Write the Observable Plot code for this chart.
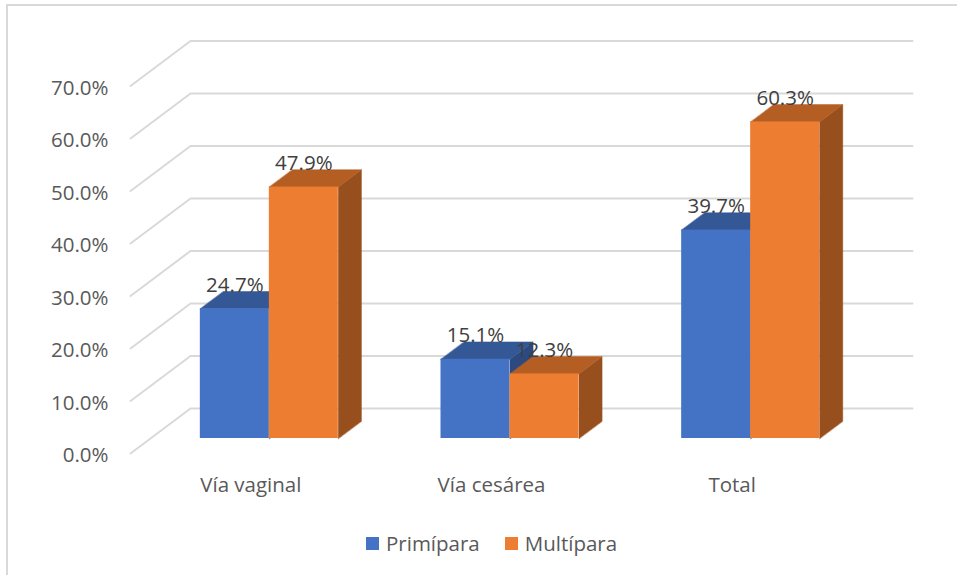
<!DOCTYPE html>
<html>
<head>
<meta charset="utf-8">
<script src="https://cdn.jsdelivr.net/npm/d3@7"></script>
<script src="https://cdn.jsdelivr.net/npm/@observablehq/plot@0.6"></script>
<style>
  body { margin: 0; background: #fff; font-family: "Open Sans", sans-serif; }
  #wrap { position: relative; width: 957px; height: 575px; overflow: hidden; background: #fff; }
  #frame { position: absolute; left: 6px; top: 4px; width: 1200px; height: 800px; border: 2px solid #d9d9d9; box-sizing: border-box; }
  #chart { position: absolute; left: 0; top: 0; }
  #legend { position: absolute; left: 366px; top: 528px; display: flex; align-items: center; font-size: 20.5px; line-height: 30px; color: #595959; }
  .item { display: flex; align-items: center; }
  .sw { width: 13px; height: 13px; display: inline-block; margin-right: 7px; }
</style>
</head>
<body>
<div id="wrap">
  <div id="frame"></div>
  <div id="chart"></div>
  <div id="legend"></div>
</div>
<script>
// ---- data ----
const categories = ["Vía vaginal", "Vía cesárea", "Total"];
const seriesNames = ["Primípara", "Multípara"];
const primipara = [24.7, 15.1, 39.7];
const multipara = [47.9, 12.3, 60.3];
const yTicks = [0, 10, 20, 30, 40, 50, 60, 70];

// ---- styling / layout ----
const frontColors = ["#4472C4", "#ED7D31"];
const topColors = ["#345796", "#B45E24"];
const sideColors = ["#2C4A80", "#984F1E"];

const W = 957, H = 515;
const xLeft = 130, xRight = 912, yBase = 453, pxPerPct = 5.25;
const depthPx = [60, 45];               // back-wall offset in pixels (dx, dy)
const catW = (xRight - depthPx[0] - xLeft) / categories.length;
const kX = depthPx[0] / catW;            // depth offset in x data units
const kY = depthPx[1] / pxPerPct;        // depth offset in y data units
const yMax = yTicks[yTicks.length - 1] + kY;
const yTop = yBase - yMax * pxPerPct;
const df = 1 / 3, db = 0.718;            // bar front / back depth fractions
const bw = 69 / catW;                    // bar width in category units
const shift = -1.5 / catW;               // small horizontal nudge of the bar groups

const values = [primipara, multipara];

// gridlines (left wall diagonal + back wall horizontal)
const grid = [];
for (const v of yTicks) {
  grid.push({v, x: 0, y: v});
  grid.push({v, x: kX, y: v + kY});
  grid.push({v, x: categories.length + kX, y: v + kY});
}

// bar faces
const faces = [];
const fronts = [];
const labels = [];
categories.forEach((c, i) => {
  seriesNames.forEach((s, si) => {
    const v = values[si][i];
    const u1 = i + 0.5 + shift - bw + si * bw, u2 = u1 + bw;
    const id = c + "|" + s;
    const P = (u, val, d) => ({x: u + kX * d, y: val + kY * d});
    // side face
    [P(u2, 0, df), P(u2, v, df), P(u2, v, db), P(u2, 0, db)].forEach(p =>
      faces.push({...p, id: id + "|side", color: sideColors[si]}));
    // top face
    [P(u1, v, df), P(u2, v, df), P(u2, v, db), P(u1, v, db)].forEach(p =>
      faces.push({...p, id: id + "|top", color: topColors[si]}));
    fronts.push({x1: u1 + kX * df, x2: u2 + kX * df, y1: kY * df, y2: v + kY * df, color: frontColors[si]});
    labels.push({x: (u1 + u2) / 2 + kX * df, y: v + kY * db, text: v.toFixed(1) + "%"});
  });
});

const catLabels = categories.map((c, i) => ({x: i + 0.5, y: 0, text: c}));

const chart = Plot.plot({
  width: W,
  height: H,
  marginLeft: xLeft,
  marginRight: W - xRight,
  marginTop: yTop,
  marginBottom: H - yBase,
  style: {fontFamily: "'Open Sans', sans-serif", fontSize: "20.5px", background: "transparent", overflow: "visible"},
  x: {domain: [0, categories.length + kX], range: [xLeft, xRight], axis: null},
  y: {domain: [0, yMax], range: [yBase, yTop]},
  color: {type: "identity"},
  marks: [
    Plot.line(grid, {x: "x", y: "y", z: "v", stroke: "#d9d9d9", strokeWidth: 2}),
    Plot.axisY(yTicks, {tickSize: 0, tickPadding: 22, tickFormat: d => d.toFixed(1) + "%", fill: "#595959", fontSize: 20.5, dy: 2}),
    Plot.line(faces, {x: "x", y: "y", z: "id", fill: "color", stroke: "color", strokeWidth: 0.5, curve: "linear-closed"}),
    Plot.rect(fronts, {x1: "x1", x2: "x2", y1: "y1", y2: "y2", fill: "color"}),
    Plot.text(labels, {x: "x", y: "y", text: "text", lineAnchor: "bottom", fill: "#404040", fontSize: 20.5}),
    Plot.text(catLabels, {x: "x", y: "y", text: "text", dy: 32, fill: "#595959", fontSize: 20.5})
  ]
});
document.getElementById("chart").appendChild(chart);

// legend
const legend = document.getElementById("legend");
seriesNames.forEach((s, i) => {
  const item = document.createElement("div");
  item.className = "item";
  if (i > 0) item.style.marginLeft = "25px";
  const sw = document.createElement("span");
  sw.className = "sw";
  sw.style.background = frontColors[i];
  const t = document.createElement("span");
  t.textContent = s;
  item.appendChild(sw);
  item.appendChild(t);
  legend.appendChild(item);
});
</script>
</body>
</html>
